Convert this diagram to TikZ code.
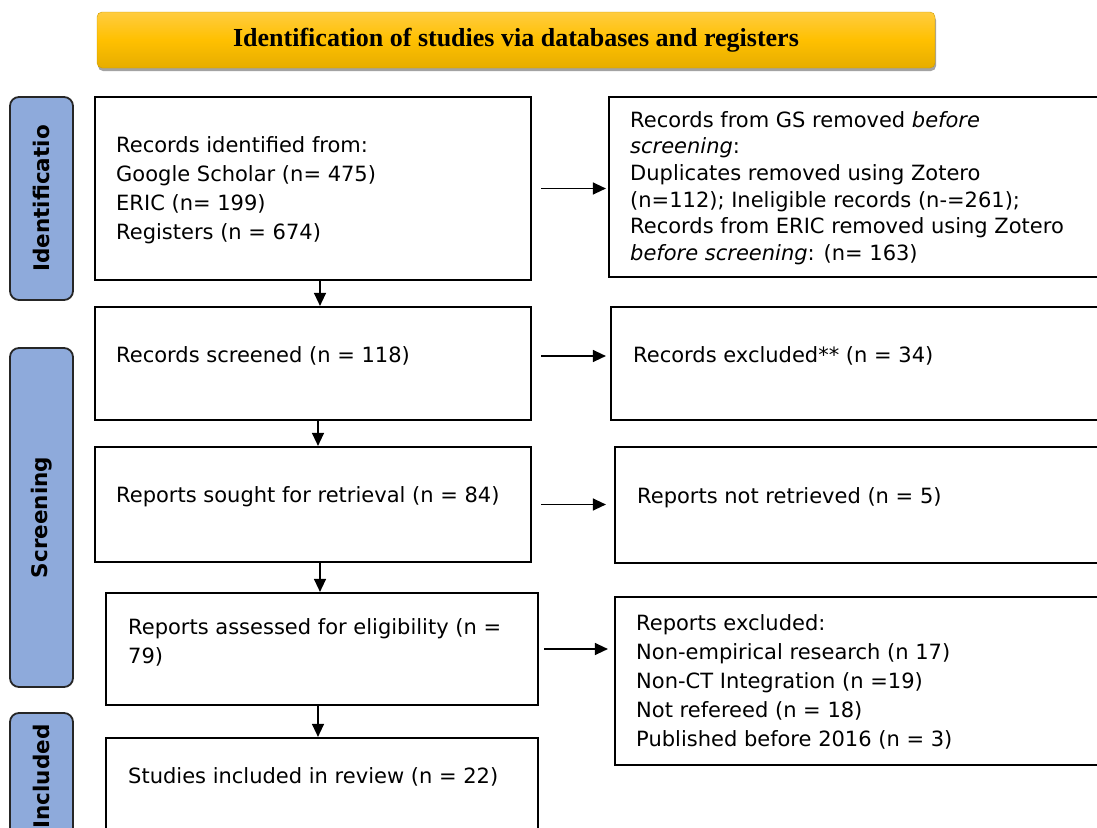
\documentclass[tikz,border=0pt]{standalone}
\usepackage{fontspec}
\setmainfont{DejaVu Sans}
\newfontfamily\titlefont{Liberation Serif}
\usetikzlibrary{arrows.meta,calc,shadows}
\definecolor{sideblue}{HTML}{8EAADB}
\definecolor{goldtop}{HTML}{FFCC40}
\definecolor{goldmid}{HTML}{FFC000}
\definecolor{goldbot}{HTML}{E6AD00}
\tikzset{
  box/.style={draw=black, line width=2.2pt, fill=white, inner sep=0pt},
  txt/.style={anchor=west, align=left, inner sep=0pt, font=\fontsize{21}{29}\selectfont},
  side/.style={draw=black!85, line width=1.8pt, fill=sideblue, rounded corners=9pt, rotate=90, inner sep=0pt, font=\bfseries\fontsize{21.5}{25}\selectfont},
  arr/.style={draw=black, line width=1.3pt, -{Triangle[length=13pt,width=12pt]}},
}
\begin{document}
\begin{tikzpicture}[x=1pt,y=-1pt]
\useasboundingbox (0,0) rectangle (1097,827);
\clip (0,0) rectangle (1097,827);
% title banner
\node[rounded corners=5pt, minimum width=838pt, minimum height=56pt, inner sep=0pt,
      top color=goldtop, bottom color=goldbot, middle color=goldmid, draw=goldbot!90!black, line width=0.4pt,
      drop shadow={shadow xshift=1pt, shadow yshift=-3pt, fill=black!45, opacity=0.8},
      font=\titlefont\bfseries\fontsize{26}{28}\selectfont] (title) at (516,40) {Identification of studies via databases and registers};
% side labels
\node[side, minimum width=203pt, minimum height=63pt] (s1) at (41.5,198.5) {Identificatio};
\node[side, minimum width=339pt, minimum height=63pt] (s2) at (41.5,517.5) {Screening};
\node[side, minimum width=127pt, minimum height=63pt] (s3) at (41.5,776.5) {Included};
% boxes
\node[box, minimum width=436pt, minimum height=183pt] (b1) at (313,188.5) {};
\node[box, minimum width=501pt, minimum height=180pt] (b2) at (859.5,187) {};
\node[box, minimum width=436pt, minimum height=113pt] (b3) at (313,363.5) {};
\node[box, minimum width=499pt, minimum height=113pt] (b4) at (860.5,363.5) {};
\node[box, minimum width=436pt, minimum height=115pt] (b5) at (313,504.5) {};
\node[box, minimum width=495pt, minimum height=116pt] (b6) at (862.5,505) {};
\node[box, minimum width=432pt, minimum height=112pt] (b7) at (322,649) {};
\node[box, minimum width=495pt, minimum height=168pt] (b8) at (862.5,681) {};
\node[box, minimum width=432pt, minimum height=102pt] (b9) at (322,789) {};
% texts
\node[txt] (t1) at (116,190) {Records identified from:\\Google Scholar (n= 475)\\ERIC (n= 199)\\Registers (n = 674)};
\node[txt, font=\fontsize{21}{26.6}\selectfont] (t2) at (630,188) {Records from GS removed \textit{before}\\\textit{screening}:\\Duplicates removed using Zotero\\(n=112); Ineligible records (n-=261);\\Records from ERIC removed using Zotero\\\textit{before screening}: (n= 163)};
\node[txt] (t3) at (116,356) {Records screened (n = 118)};
\node[txt] (t4) at (633,356) {Records excluded** (n = 34)};
\node[txt] (t5) at (116,497) {Reports sought for retrieval (n = 84)};
\node[txt] (t6) at (637,498) {Reports not retrieved (n = 5)};
\node[txt] (t7) at (128,642) {Reports assessed for eligibility (n =\\79)};
\node[txt] (t8) at (636,682) {Reports excluded:\\Non-empirical research (n 17)\\Non-CT Integration (n =19)\\Not refereed (n = 18)\\Published before 2016 (n = 3)};
\node[txt] (t9) at (128,777) {Studies included in review (n = 22)};
% horizontal arrows
\draw[arr, shorten <=9pt, shorten >=2pt] (b1.east) -- (b1.east -| b2.west);
\draw[arr, shorten <=9pt, shorten >=4pt] (t3 -| b3.east) -- (t3 -| b4.west);
\draw[arr, shorten <=9pt, shorten >=8pt] (b5.east) -- (b5.east -| b6.west);
\draw[arr, shorten <=5pt, shorten >=6pt] (b7.east) -- (b7.east -| b8.west);
% vertical arrows
\draw[arr] ([xshift=7pt]b1.south) -- ([xshift=7pt]b1.south |- b3.north);
\draw[arr] ([xshift=5pt]b3.south) -- ([xshift=5pt]b3.south |- b5.north);
\draw[arr] ([xshift=7pt]b5.south) -- ([xshift=7pt]b5.south |- b7.north);
\draw[arr] ([xshift=-4pt]b7.south) -- ([xshift=-4pt]b7.south |- b9.north);
\end{tikzpicture}
\end{document}
